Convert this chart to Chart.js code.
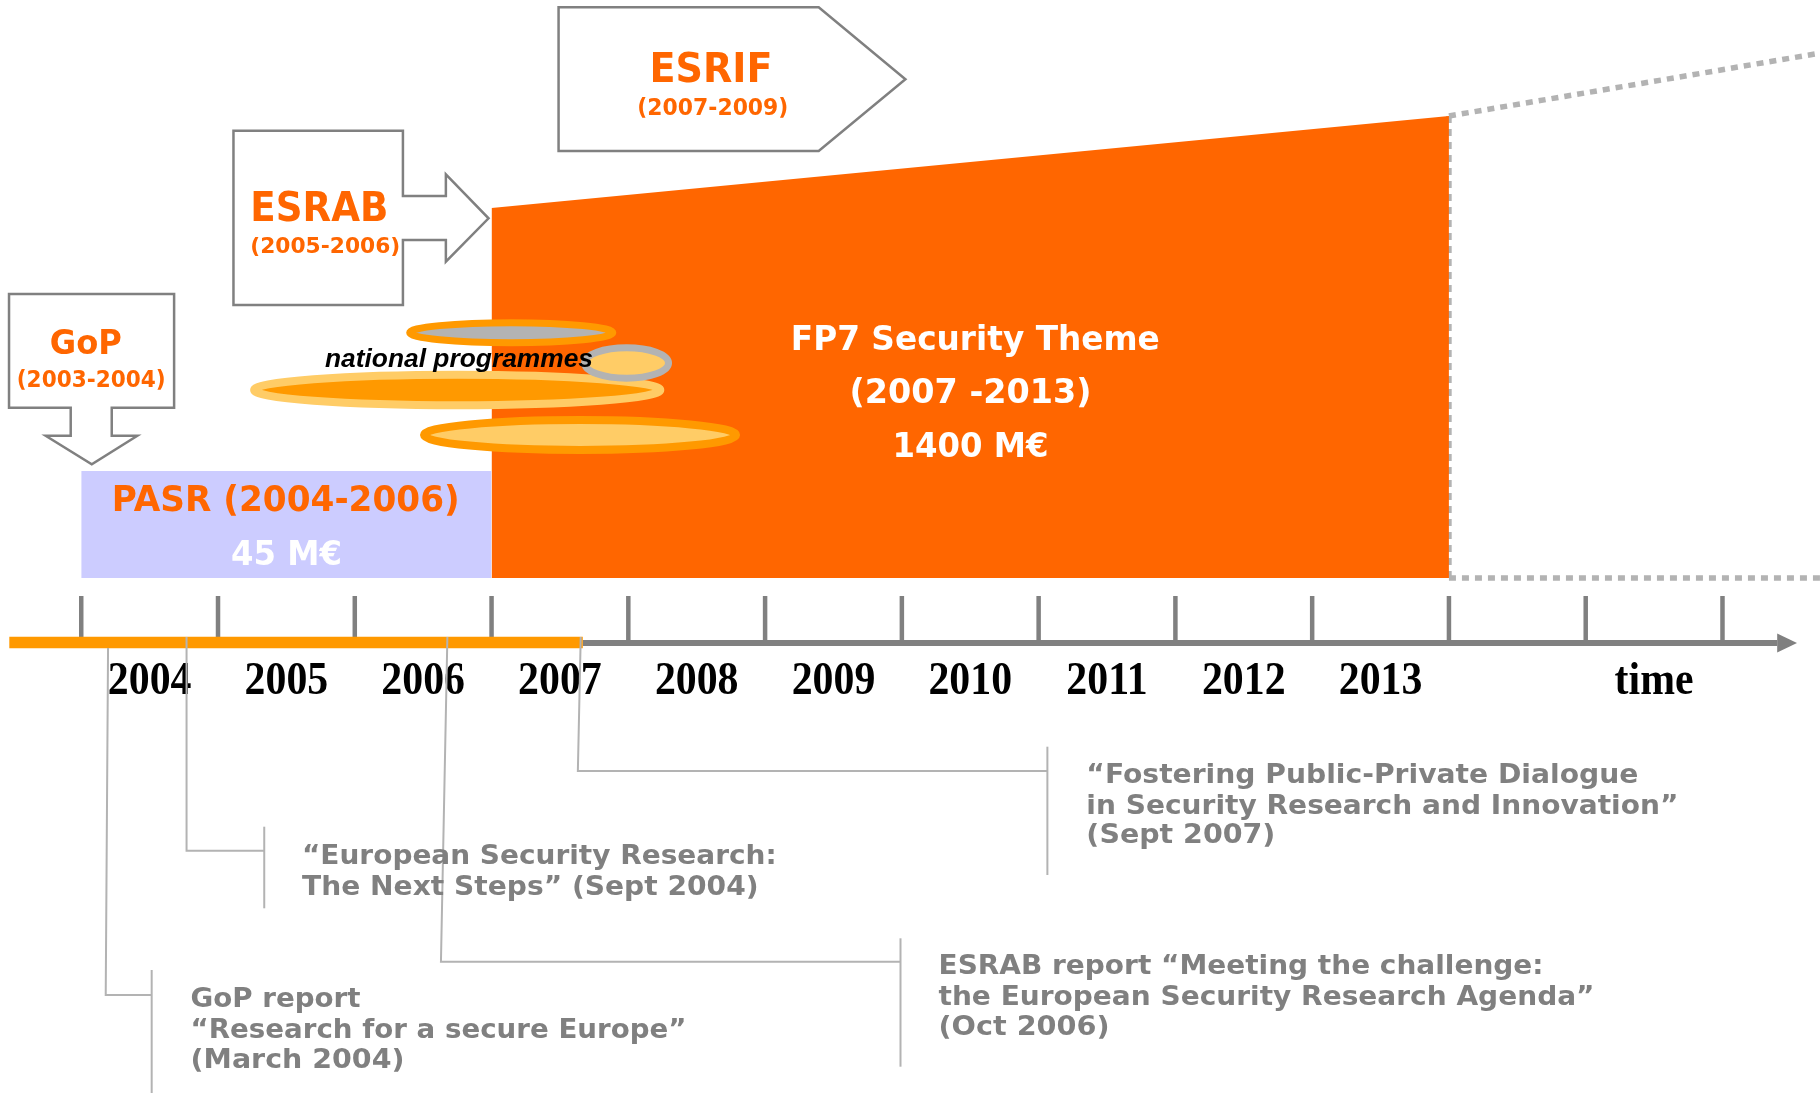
<!DOCTYPE html>
<html><head><meta charset="utf-8">
<script src="https://cdn.jsdelivr.net/npm/chart.js@4.4.1/dist/chart.umd.min.js"></script>
<style>html,body{margin:0;padding:0;background:#fff;overflow:hidden}canvas{display:block}</style>
</head><body>
<canvas id="c" width="1820" height="1093" style="width:1820px;height:1093px"></canvas>
<script>
// ================= DATA (years on x, funding "level" on y) =================
const tickYears     = [2004,2005,2006,2007,2008,2009,2010,2011,2012,2013,2014,2015,2016];
const yearLabels    = ['2004','2005','2006','2007','2008','2009','2010','2011','2012','2013','time'];
const yearLabelAt   = [2004.5,2005.5,2006.5,2007.5,2008.5,2009.5,2010.5,2011.5,2012.5,2013.5,2015.5];

const pasrYears     = [2004, 2007];
const pasrLevel     = [107, 107];
const fp7Years      = [2007, 2014];
const fp7Level      = [370, 462];
const outlookYears  = [2014, 2016.72];
const outlookLevel  = [462, 525];

const progressYears = [2003.474, 2007.667];   // elapsed part of the time axis (to Sept 2007)
const axisYears     = [2007.667, 2016.40];
const axisTipYear   = 2016.545;

// report dates (where the connector leaves the time axis)
const reportYears   = [2004.196, 2004.770, 2006.677, 2007.652];

// ================= TEXT =================
const ORANGE = '#ff6600', GREY_TXT = '#808080', LINE_GREY = '#b3b3b3', BOX_GREY = '#808080';
const blockLabels = [
  // text, x(year), y(level), font, colour, target width(px)
  ['GoP',               2004.033, 224,   'bold 34px "DejaVu Sans"',   ORANGE, 72],
  ['(2003-2004)',       2004.073, 191,   'bold 23px "DejaVu Sans"',   ORANGE, 149],
  ['ESRAB',             2005.741, 357.3, 'bold 41px "DejaVu Sans"',   ORANGE, 138],
  ['(2005-2006)',       2005.784, 325.3, 'bold 22px "DejaVu Sans"',   ORANGE, 150],
  ['ESRIF',             2008.604, 495.7, 'bold 41px "DejaVu Sans"',   ORANGE, 123],
  ['(2007-2009)',       2008.618, 463,   'bold 23px "DejaVu Sans"',   ORANGE, 151],
  ['FP7 Security Theme',2010.537, 228,   'bold 34.5px "DejaVu Sans"', '#ffffff', 369],
  ['(2007 -2013)',      2010.502, 174.7, 'bold 33px "DejaVu Sans"',   '#ffffff', 242],
  ['1400 M€',           2010.502, 121.3, 'bold 33px "DejaVu Sans"',   '#ffffff', 156],
  ['PASR (2004-2006)',  2005.495, 67,    'bold 36px "DejaVu Sans"',   ORANGE, 348],
  ['45 M€',             2005.500, 13,    'bold 34px "DejaVu Sans"',   '#ffffff', 111],
];
const natProgText = ['national programmes', 2006.762, 210.7, 'italic bold 25px "Liberation Sans"', '#000000', 268];

const reportBlocks = [
  {x: 2004.799, y: [-429, -460.3, -489.7], w: [170, 496, 214],
   lines: ['GoP report', '“Research for a secure Europe”', '(March 2004)']},
  {x: 2005.614, y: [-285.5, -316.5], w: [474.6, 456.6],
   lines: ['“European Security Research:', 'The Next Steps” (Sept 2004)']},
  {x: 2010.268, y: [-395.5, -427, -456.7], w: [605, 656, 171],
   lines: ['ESRAB report “Meeting the challenge:', 'the European Security Research Agenda”', '(Oct 2006)']},
  {x: 2011.349, y: [-205.4, -235.7, -264.8], w: [552, 592, 189],
   lines: ['“Fostering Public-Private Dialogue', 'in Security Research and Innovation”', '(Sept 2007)']},
];

// ================= SHAPES (in year / level units) =================
const boxShapes = [
  [[2003.472,284],[2004.679,284],[2004.679,170.3],[2004.223,170.3],[2004.223,142.3],[2004.410,142.3],
   [2004.077,113.7],[2003.740,142.3],[2003.923,142.3],[2003.923,170.3],[2003.472,170.3]],
  [[2005.113,447.3],[2006.352,447.3],[2006.352,382],[2006.666,382],[2006.666,403.7],[2006.978,359.7],
   [2006.666,316.3],[2006.666,338],[2006.352,338],[2006.352,273],[2005.113,273]],
  [[2007.490,570.7],[2009.392,570.7],[2010.026,498.7],[2009.392,427],[2007.490,427]],
];
// national programmes ellipses: centre year, half-width (years), centre level, half-height, fill, stroke, stroke width
const ellipses = [
  [2007.144, 0.7425, 245.3, 10,   '#b3b3b3', '#ff9900', 7],
  [2006.749, 1.485,  188,   15.3, '#ff9900', '#ffcc66', 8],
  [2007.987, 0.307,  215,   15.2, '#ffcc66', '#b3b3b3', 7],
  [2007.647, 1.141,  143,   15,   '#ffcc66', '#ff9900', 8],
];
const connectors = [
  {path: [[reportYears[0],-70],[2004.179,-417],[2004.515,-417]], bracket: [2004.515,-392,-515]},
  {path: [[reportYears[1],-59],[2004.770,-272.7],[2005.338,-272.7]], bracket: [2005.338,-248.7,-330.3]},
  {path: [[reportYears[2],-59],[2006.630,-383.7],[2009.990,-383.7]], bracket: [2009.990,-360.3,-488.7]},
  {path: [[reportYears[3],-59],[2007.631,-193],[2011.064,-193]], bracket: [2011.064,-168.7,-297]},
];
const AXIS_LEVEL = -65, TICK_TOP = -18, PROGRESS_LEVEL = -64.5, YEAR_BASE = -116;

// ================= helpers =================
function pts(xs, ys){ return xs.map((x,i)=>({x, y: ys[i]})); }
function drawText(ctx, txt, x, y, font, color, width, align){
  ctx.save();
  ctx.font = font; ctx.fillStyle = color; ctx.textBaseline = 'alphabetic';
  const m = ctx.measureText(txt).width;
  const s = width ? width / m : 1;
  ctx.translate(x, y); ctx.scale(s, 1);
  ctx.textAlign = align || 'center';
  ctx.fillText(txt, 0, 0);
  ctx.restore();
}

const diagramPlugin = {
  id: 'diagram',
  afterDatasetsDraw(chart){
    const ctx = chart.ctx, xs = chart.scales.x, ys = chart.scales.y;
    const X = v => xs.getPixelForValue(v), Y = v => ys.getPixelForValue(v);

    // boxes with arrows
    ctx.save();
    ctx.lineJoin = 'miter'; ctx.lineWidth = 2.5; ctx.strokeStyle = BOX_GREY; ctx.fillStyle = '#ffffff';
    boxShapes.forEach(sh => {
      ctx.beginPath();
      sh.forEach((p,i) => i ? ctx.lineTo(X(p[0]), Y(p[1])) : ctx.moveTo(X(p[0]), Y(p[1])));
      ctx.closePath(); ctx.fill(); ctx.stroke();
    });
    ctx.restore();

    // ellipses
    ellipses.forEach(e => {
      const cx = X(e[0]), rx = Math.abs(X(e[0]+e[1]) - cx), cy = Y(e[2]), ry = Math.abs(Y(e[2]+e[3]) - cy);
      ctx.save();
      ctx.beginPath(); ctx.ellipse(cx, cy, rx, ry, 0, 0, Math.PI*2);
      ctx.fillStyle = e[4]; ctx.fill();
      ctx.lineWidth = e[6]; ctx.strokeStyle = e[5]; ctx.stroke();
      ctx.restore();
    });
    drawText(ctx, natProgText[0], X(natProgText[1]), Y(natProgText[2]), natProgText[3], natProgText[4], natProgText[5]);

    blockLabels.forEach(l => drawText(ctx, l[0], X(l[1]), Y(l[2]), l[3], l[4], l[5]));

    // time axis
    ctx.save();
    ctx.strokeStyle = '#808080'; ctx.lineWidth = 4.5; ctx.lineCap = 'butt';
    tickYears.forEach(t => {
      ctx.beginPath(); ctx.moveTo(X(t), Y(TICK_TOP)); ctx.lineTo(X(t), Y(AXIS_LEVEL)); ctx.stroke();
    });
    ctx.lineWidth = 6;
    ctx.beginPath(); ctx.moveTo(X(axisYears[0]), Y(AXIS_LEVEL)); ctx.lineTo(X(axisYears[1]), Y(AXIS_LEVEL)); ctx.stroke();
    ctx.fillStyle = '#808080';
    ctx.beginPath();
    ctx.moveTo(X(axisYears[1]), Y(AXIS_LEVEL+9.5));
    ctx.lineTo(X(axisTipYear), Y(AXIS_LEVEL));
    ctx.lineTo(X(axisYears[1]), Y(AXIS_LEVEL-9.5));
    ctx.closePath(); ctx.fill();
    ctx.strokeStyle = '#ff9900'; ctx.lineWidth = 11.6;
    ctx.beginPath(); ctx.moveTo(X(progressYears[0]), Y(PROGRESS_LEVEL)); ctx.lineTo(X(progressYears[1]), Y(PROGRESS_LEVEL)); ctx.stroke();
    ctx.restore();

    yearLabels.forEach((t,i) => {
      ctx.save();
      ctx.font = 'bold 47px "Liberation Serif"'; ctx.fillStyle = '#000'; ctx.textAlign = 'center';
      ctx.translate(X(yearLabelAt[i]), Y(YEAR_BASE)); ctx.scale(0.89, 1);
      ctx.fillText(t, 0, 0);
      ctx.restore();
    });

    // connectors
    ctx.save();
    ctx.strokeStyle = LINE_GREY; ctx.lineWidth = 2;
    connectors.forEach(c => {
      ctx.beginPath();
      c.path.forEach((p,i) => i ? ctx.lineTo(X(p[0]), Y(p[1])) : ctx.moveTo(X(p[0]), Y(p[1])));
      ctx.stroke();
      ctx.beginPath(); ctx.moveTo(X(c.bracket[0]), Y(c.bracket[1])); ctx.lineTo(X(c.bracket[0]), Y(c.bracket[2])); ctx.stroke();
    });
    ctx.restore();

    reportBlocks.forEach(b => b.lines.forEach((ln,i) =>
      drawText(ctx, ln, X(b.x), Y(b.y[i]), 'bold 27px "DejaVu Sans"', GREY_TXT, b.w[i], 'left')));
  }
};

const dotted = {borderColor: LINE_GREY, borderWidth: 5.5, borderDash: [7,6], borderCapStyle: 'butt', fill: false, pointRadius: 0};

new Chart(document.getElementById('c'), {
  type: 'line',
  data: {
    datasets: [
      {data: pts(pasrYears, pasrLevel), fill: 'origin', backgroundColor: '#ccccff', borderWidth: 0, pointRadius: 0},
      {data: pts(fp7Years, fp7Level),   fill: 'origin', backgroundColor: '#ff6600', borderWidth: 0, pointRadius: 0},
      Object.assign({data: pts(outlookYears, outlookLevel)}, dotted),
      Object.assign({data: pts(outlookYears, outlookLevel.map(() => 0))}, dotted),
      Object.assign({data: pts([fp7Years[1], fp7Years[1]], [0, fp7Level[1]])}, dotted),
    ]
  },
  options: {
    responsive: false, devicePixelRatio: 1, animation: false, events: [],
    layout: {padding: 0},
    plugins: {legend: {display: false}, tooltip: {enabled: false}},
    elements: {line: {tension: 0}},
    scales: {
      x: {type: 'linear', min: 2003.406, max: 2016.713, display: false},
      y: {type: 'linear', min: -515, max: 578, display: false}
    }
  },
  plugins: [diagramPlugin]
});
</script>
</body></html>
